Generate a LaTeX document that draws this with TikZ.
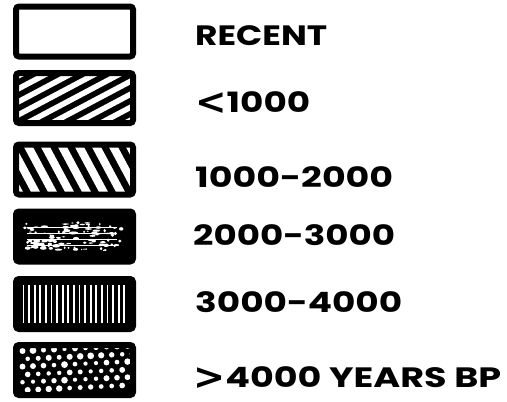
\documentclass[tikz,border=0pt]{standalone}
\usepackage{fontspec}
\usepackage{graphicx}
\setmainfont{Poppins}[BoldFont=* Bold]
\newfontfamily\symfont{DejaVu Sans Bold}
\usetikzlibrary{calc}
\tikzset{
  legbox/.style={draw=black, line width=6pt, rounded corners=3pt, minimum width=117pt, minimum height=50pt, inner sep=0pt, outer sep=0pt},
  legtext/.style={anchor=base west, inner sep=0pt, font=\fontsize{28}{28}\selectfont\bfseries},
}
\newcommand{\fitw}[2]{\resizebox{#1pt}{\height}{#2}}
\newcommand{\bigsym}[1]{\raisebox{-2.5pt}{\scalebox{1.05}[1.3]{\symfont #1}}}
\begin{document}
\begin{tikzpicture}[x=1pt,y=-1pt]
\useasboundingbox (0,0) rectangle (507,402);
% box positions
\coordinate (c1) at (74.5,31.5);
\coordinate (c2) at (74.5,98);
\coordinate (c3) at (74.5,169.5);
\coordinate (c4) at (74.5,236.5);
\coordinate (c5) at (74.5,304);
\coordinate (c6) at (74.5,370);
% pattern 2: shallow / hatch
\begin{scope}
  \clip ($(c2)+(-58,-25)$) rectangle ($(c2)+(58,25)$);
  \fill[black] ($(c2)+(-60,-27)$) rectangle ($(c2)+(60,27)$);
  \foreach \k in {-8,...,8}{
    \draw[white, line width=5.5pt] ($(c2)+(-100,\k*13+53)$) -- ($(c2)+(100,\k*13-53)$);
  }
\end{scope}
% pattern 3: steep \ hatch
\begin{scope}
  \clip ($(c3)+(-58,-25)$) rectangle ($(c3)+(58,25)$);
  \fill[black] ($(c3)+(-60,-27)$) rectangle ($(c3)+(60,27)$);
  \foreach \k in {-6,...,6}{
    \draw[white, line width=8pt] ($(c3)+(\k*17-30,-56)$) -- ($(c3)+(\k*17+30,56)$);
  }
\end{scope}
% pattern 4: mottled
\begin{scope}
  \clip ($(c4)+(-58,-25)$) rectangle ($(c4)+(58,25)$);
  \fill[black] ($(c4)+(-60,-27)$) rectangle ($(c4)+(60,27)$);
  \pgfmathsetseed{7}
  \foreach \i in {1,...,110}{
    \pgfmathsetmacro{\px}{-50+rnd*98}
    \pgfmathsetmacro{\py}{-14+rnd*28}
    \pgfmathsetmacro{\rx}{0.8+rnd*3.2}
    \pgfmathsetmacro{\ry}{0.5+rnd*1.3}
    \fill[white] ($(c4)+(\px,\py)$) ellipse [x radius=\rx, y radius=\ry];
  }
  \foreach \yy in {-9,-3,3,9}{
    \draw[white, line width=0.6pt] ($(c4)+(-48,\yy)$) -- ($(c4)+(42,\yy)$);
  }
\end{scope}
% pattern 5: vertical lines
\begin{scope}
  \clip ($(c5)+(-58,-25)$) rectangle ($(c5)+(58,25)$);
  \fill[black] ($(c5)+(-60,-27)$) rectangle ($(c5)+(60,27)$);
  \foreach \k in {0,...,18}{
    \draw[white, line width=1.8pt] ($(c5)+(-51+\k*5.6,-19)$) -- ($(c5)+(-51+\k*5.6,19)$);
  }
\end{scope}
% pattern 6: dots
\begin{scope}
  \clip ($(c6)+(-58,-25)$) rectangle ($(c6)+(58,25)$);
  \fill[black] ($(c6)+(-60,-27)$) rectangle ($(c6)+(60,27)$);
  \pgfmathsetseed{11}
  \foreach \j in {0,...,5}{
    \foreach \i in {0,...,10}{
      \pgfmathsetmacro{\px}{-52+\i*10.5+mod(\j,2)*5.2}
      \pgfmathsetmacro{\py}{-19+\j*7.8-\i*0.5}
      \pgfmathsetmacro{\rr}{2.0+rnd*1.5}
      \fill[white] ($(c6)+(\px,\py)$) circle [radius=\rr];
    }
  }
\end{scope}
% boxes
\node[legbox] (b1) at (c1) {};
\node[legbox] (b2) at (c2) {};
\node[legbox] (b3) at (c3) {};
\node[legbox] (b4) at (c4) {};
\node[legbox] (b5) at (c5) {};
\node[legbox] (b6) at (c6) {};
% labels
\node[legtext] (t1) at (195,45) {\fitw{132}{RECENT}};
\node[legtext] (t2) at (195,112) {\fitw{115}{\bigsym{<}1000}};
\node[legtext] (t3) at (195,187) {\fitw{198}{1000-2000}};
\node[legtext] (t4) at (193,245) {\fitw{202}{2000-3000}};
\node[legtext] (t5) at (195,312) {\fitw{207}{3000-4000}};
\node[legtext] (t6) at (193,387) {\fitw{308}{\bigsym{>}4000 YEARS BP}};
\end{tikzpicture}
\end{document}
